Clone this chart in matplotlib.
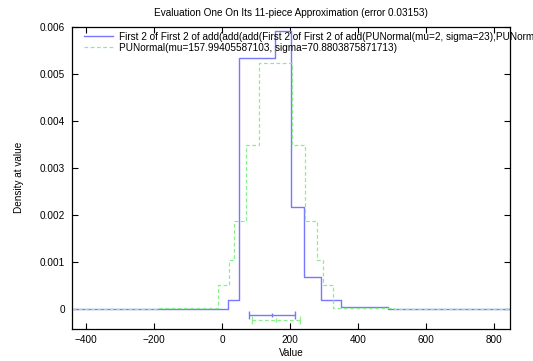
import matplotlib
matplotlib.use("Agg")
import matplotlib.pyplot as plt
import numpy as np

plt.rcParams['font.family'] = ['Liberation Sans', 'DejaVu Sans']
plt.rcParams['font.size'] = 7.2

# ---- data ----
blue_edges = [-441, -14, 18, 49, 155, 202, 241, 290, 349, 488, 845]
blue_values = [0, 0.000015, 0.0002, 0.00533, 0.0059, 0.002175, 0.000685, 0.0002, 0.00005, 0]

green_edges = [-441, -190, -14, 19, 33, 70, 107, 204, 243, 279, 297, 326, 505, 845]
green_values = [0, 0.00002, 0.00051, 0.00104, 0.00187, 0.00349, 0.00522, 0.00349,
                0.00187, 0.00104, 0.00051, 0.00002, 0]

blue_mean = 146.2
blue_sd = 66.8
blue_bar_y = -0.000117
green_mu = 157.99405587103
green_sigma = 70.8803875871713
green_bar_y = -0.000238

blue_label = ("First 2 of First 2 of add(add(add(First 2 of First 2 of "
              "add(PUNormal(mu=2, sigma=23),PUNormal(mu=")
green_label = "PUNormal(mu=157.99405587103, sigma=70.8803875871713)"
title = "Evaluation One On Its 11-piece Approximation (error 0.03153)"

xticks = [-400, -200, 0, 200, 400, 600, 800]
yticks = [0, 0.001, 0.002, 0.003, 0.004, 0.005, 0.006]
ytick_labels = ['0', '0.001', '0.002', '0.003', '0.004', '0.005', '0.006']

BLUE = '#7878ff'
GREEN = '#88f088'

W, H = 533, 361
fig = plt.figure(figsize=(W / 100, H / 100), dpi=100)
ax = fig.add_axes([72.3 / W, 1 - 329 / H, (509.7 - 72.3) / W, (329 - 26.7) / H])

ax.step(blue_edges, blue_values + [blue_values[-1]], where='post',
        color=BLUE, lw=1.0, label=blue_label)
ax.step(green_edges, green_values + [green_values[-1]], where='post',
        color=GREEN, lw=0.9, dashes=(3, 2), label=green_label)

# error bars
ax.errorbar([blue_mean], [blue_bar_y], xerr=[blue_sd], color=BLUE, lw=1.0,
            capsize=2.8, capthick=1.0, marker='|', markersize=3, mew=1.0)
eb = ax.errorbar([green_mu], [green_bar_y], xerr=[green_sigma], color=GREEN, lw=0.9,
                 capsize=2.8, capthick=0.9, marker='|', markersize=3, mew=0.9)
for lc in eb[2]:
    lc.set_linestyle((0, (3, 2)))

ax.set_xlim(-441, 845)
ax.set_ylim(-0.00042, 0.006)
ax.set_xticks(xticks)
ax.set_yticks(yticks)
ax.set_yticklabels(ytick_labels)
ax.tick_params(direction='in', length=4, width=0.8, top=True, right=True,
               labelsize=7.2, color='black')
ax.tick_params(axis='x', pad=4)
ax.tick_params(axis='y', pad=5)
for s in ax.spines.values():
    s.set_linewidth(0.9)

ax.set_title(title, fontsize=7.2, pad=8)
ax.set_xlabel('Value', fontsize=7.2, va='center')
ax.xaxis.set_label_coords(0.5, -(353 - 329) / (329 - 26.7))
ax.set_ylabel('Density at value', fontsize=7.2, va='center')
ax.yaxis.set_label_coords(-(72.3 - 19) / (509.7 - 72.3), 0.5)

leg = ax.legend(loc='upper left', bbox_to_anchor=(0.0267, 0.983), frameon=False,
                borderpad=0, borderaxespad=0, handlelength=2.9, handletextpad=0.6,
                labelspacing=0.1, fontsize=7.2)

fig.savefig('out.png', dpi=100)
